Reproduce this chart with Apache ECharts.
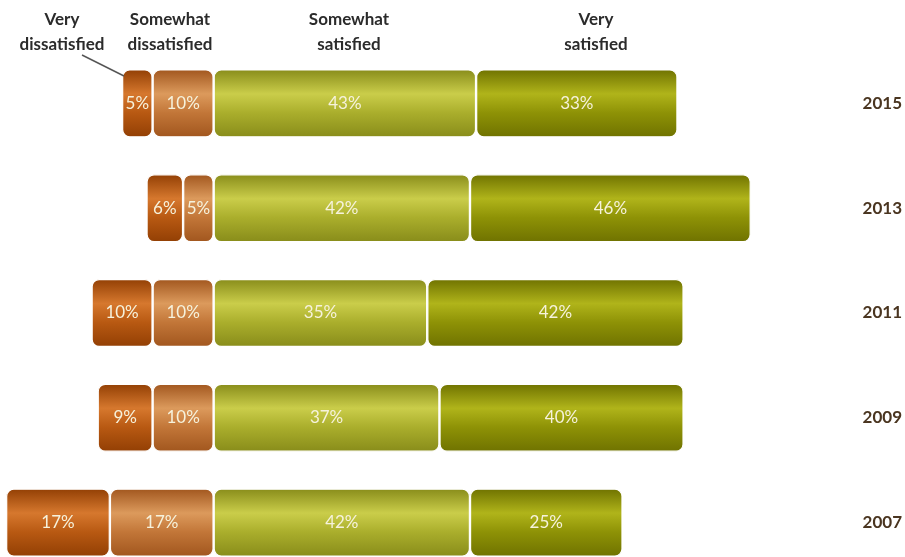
<!DOCTYPE html>
<html>
<head>
<meta charset="utf-8">
<script src="https://cdn.jsdelivr.net/npm/echarts@6/dist/echarts.min.js"></script>
<style>html,body{margin:0;padding:0;background:#fff}#c{width:905px;height:557px}</style>
</head>
<body>
<div id="c"></div>
<script>
// Survey years, top to bottom
const years = ['2015', '2013', '2011', '2009', '2007'];
// Share of respondents (%) per answer
const veryDissatisfied = [5, 6, 10, 9, 17];
const somewhatDissatisfied = [10, 5, 10, 10, 17];
const somewhatSatisfied = [43, 42, 35, 37, 42];
const verySatisfied = [33, 46, 42, 40, 25];

const FONT = 'Lato, "Open Sans", sans-serif';

function glossy(dark, light, mid) {
  return new echarts.graphic.LinearGradient(0, 0, 0, 1, [
    { offset: 0, color: dark },
    { offset: 0.36, color: light },
    { offset: 0.64, color: mid },
    { offset: 1, color: dark }
  ]);
}

const labelStyle = {
  show: true,
  position: 'inside',
  color: '#f6f2dc',
  fontSize: 17,
  fontFamily: FONT,
  formatter: p => Math.abs(p.value) + '%'
};

function bar(name, values, sign, color) {
  return {
    name: name,
    type: 'bar',
    stack: 'total',
    barWidth: 68,
    data: values.map(v => sign * v),
    label: labelStyle,
    itemStyle: {
      color: color,
      borderColor: '#ffffff',
      borderWidth: 1.2,
      borderRadius: 7
    },
    emphasis: { disabled: true }
  };
}

const headerFont = {
  fontFamily: FONT,
  fontWeight: 'bold',
  fontSize: 17,
  fill: '#2b2b2b',
  align: 'center',
  lineHeight: 25
};

function header(x, text) {
  return { type: 'text', x: x, y: 7, style: Object.assign({ text: text }, headerFont) };
}

const chart = echarts.init(document.getElementById('c'), null, { renderer: 'canvas' });
chart.setOption({
  animation: false,
  backgroundColor: '#ffffff',
  grid: { left: 0, top: 51, width: 824, height: 524, outerBoundsMode: 'none', containLabel: false },
  xAxis: {
    type: 'value',
    min: -35,
    max: 100,
    show: false
  },
  yAxis: {
    type: 'category',
    data: years,
    inverse: true,
    position: 'right',
    axisLine: { show: false },
    axisTick: { show: false },
    splitLine: { show: false },
    axisLabel: {
      align: 'right',
      margin: 78,
      color: '#4a3520',
      fontSize: 17,
      fontWeight: 'bold',
      fontFamily: FONT
    }
  },
  series: [
    bar('Somewhat dissatisfied', somewhatDissatisfied, -1, glossy('#a1561e', '#dc9a5c', '#c27638')),
    bar('Very dissatisfied', veryDissatisfied, -1, glossy('#923f04', '#d6782e', '#b85912')),
    bar('Somewhat satisfied', somewhatSatisfied, 1, glossy('#888c1a', '#cacd4a', '#aaae2c')),
    bar('Very satisfied', verySatisfied, 1, glossy('#6f7200', '#b0b41a', '#8e9206'))
  ],
  graphic: [
    header(62, 'Very\ndissatisfied'),
    header(170, 'Somewhat\ndissatisfied'),
    header(349, 'Somewhat\nsatisfied'),
    header(596, 'Very\nsatisfied'),
    {
      type: 'line',
      shape: { x1: 82, y1: 55, x2: 124, y2: 76 },
      style: { stroke: '#555555', lineWidth: 1.5 },
      z: 10
    }
  ]
});
</script>
</body>
</html>
